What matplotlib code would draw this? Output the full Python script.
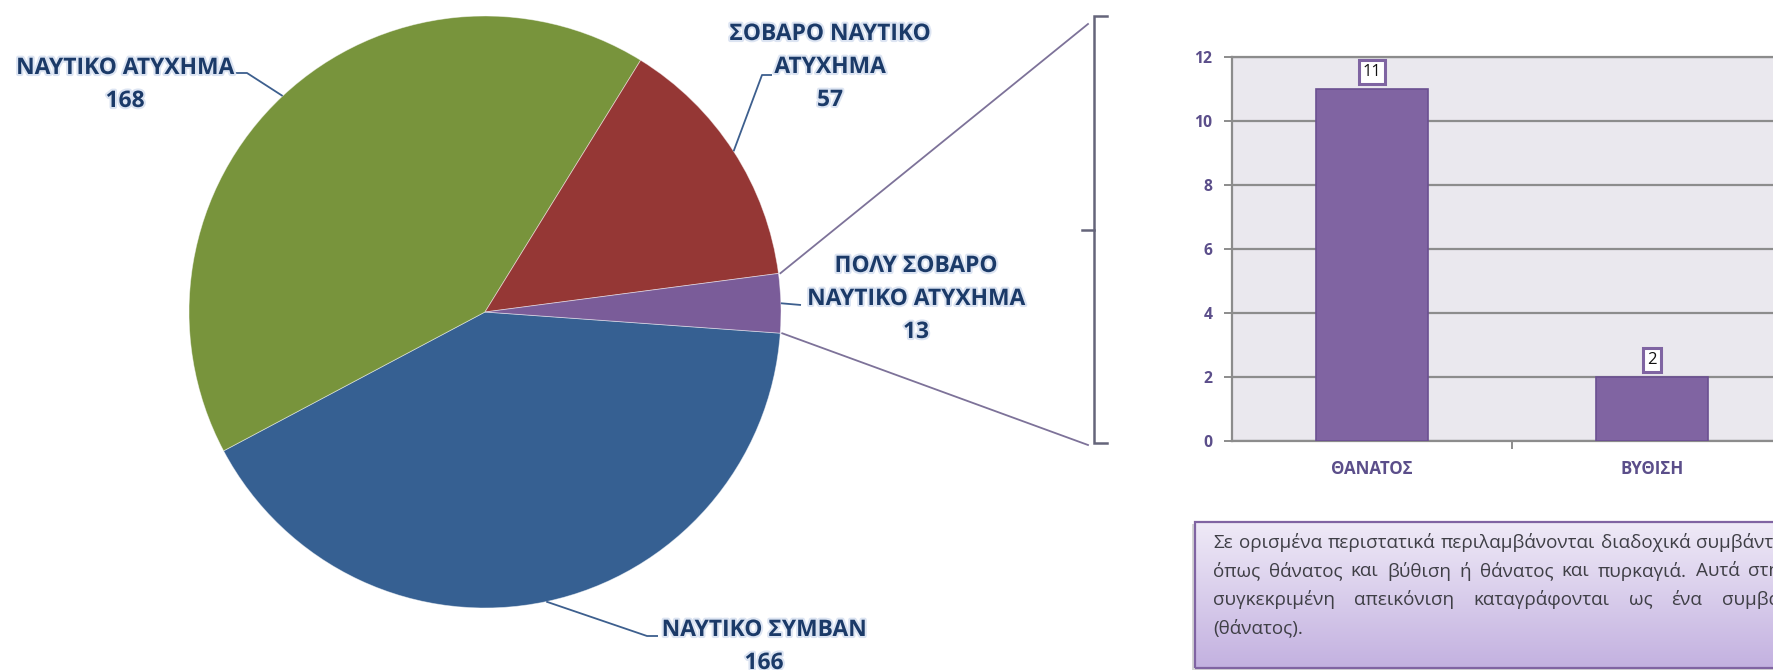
import numpy as np
import matplotlib
matplotlib.use("Agg")
import matplotlib.pyplot as plt
from matplotlib import patheffects as pe
from matplotlib.patches import Rectangle

# ---------------- data ----------------
pie_categories = ["ΝΑΥΤΙΚΟ ΣΥΜΒΑΝ", "ΝΑΥΤΙΚΟ ΑΤΥΧΗΜΑ",
                  "ΣΟΒΑΡΟ ΝΑΥΤΙΚΟ ΑΤΥΧΗΜΑ", "ΠΟΛΥ ΣΟΒΑΡΟ ΝΑΥΤΙΚΟ ΑΤΥΧΗΜΑ"]
pie_values = [166, 168, 57, 13]
pie_label_lines = [["ΝΑΥΤΙΚΟ ΣΥΜΒΑΝ"], ["ΝΑΥΤΙΚΟ ΑΤΥΧΗΜΑ"],
                   ["ΣΟΒΑΡΟ ΝΑΥΤΙΚΟ", "ΑΤΥΧΗΜΑ"], ["ΠΟΛΥ ΣΟΒΑΡΟ", "ΝΑΥΤΙΚΟ ΑΤΥΧΗΜΑ"]]
pie_colors = ["#366092", "#78943C", "#953735", "#7A5C99"]

bar_categories = ["ΘΑΝΑΤΟΣ", "ΒΥΘΙΣΗ"]
bar_values = [11, 2]
y_ticks = [0, 2, 4, 6, 8, 10, 12]

note_lines = [
    "Σε ορισμένα περιστατικά περιλαμβάνονται διαδοχικά συμβάντα,",
    "όπως θάνατος και βύθιση ή θάνατος και πυρκαγιά. Αυτά στην",
    "συγκεκριμένη απεικόνιση καταγράφονται ως ένα συμβάν",
    "(θάνατος).",
]

# ---------------- figure ----------------
W, H = 1773, 670
FONT = "Open Sans"
plt.rcParams["font.family"] = [FONT, "DejaVu Sans"]
fig = plt.figure(figsize=(W / 100, H / 100), dpi=100)
fig.patch.set_facecolor("white")
ov = fig.add_axes([0, 0, 1, 1])
renderer = fig.canvas.get_renderer()


def Y(y):
    return H - y


def fit_size(s, target_w, **kw):
    t = ov.text(0, 0, s, fontsize=10, **kw)
    w = t.get_window_extent(renderer).width
    t.remove()
    return 10.0 * target_w / w


# ---------------- pie ----------------
cx, cy, R = 485, 312, 296
wedges, _ = ov.pie(pie_values, colors=pie_colors, startangle=-4.1,
                   counterclock=False, center=(cx, Y(cy)), radius=R, frame=True,
                   wedgeprops=dict(linewidth=0.6, edgecolor=(1, 1, 1, 0.5)))
ov.set_xlim(0, W)
ov.set_ylim(0, H)
ov.axis("off")


def edge_pt(angle_deg, r=R):
    a = np.deg2rad(angle_deg)
    return cx + r * np.cos(a), Y(cy) + r * np.sin(a)


mids = [(w.theta1 + w.theta2) / 2 for w in wedges]

label_fs = fit_size("ΝΑΥΤΙΚΟ ΑΤΥΧΗΜΑ", 218, fontweight="bold")
label_color = "#1B3A68"
glow = [pe.withStroke(linewidth=3, foreground="#DCE4F2")]
label_pos = [(764, 630), (125, 68), (830, 34), (916, 266)]
line_step = 33
for lines, val, (lx, ly) in zip(pie_label_lines, pie_values, label_pos):
    for k, s in enumerate(lines + [str(val)]):
        ov.text(lx, Y(ly + k * line_step), s, ha="center", va="center",
                fontsize=label_fs, fontweight="bold", color=label_color,
                path_effects=glow, zorder=5)

leader_color = "#3D5F8E"
leaders = [
    [(658, 636), (647, 636)],   # ΝΑΥΤΙΚΟ ΣΥΜΒΑΝ
    [(235, 73), (247, 73)],     # ΝΑΥΤΙΚΟ ΑΤΥΧΗΜΑ
    [(772, 75), (762, 75)],     # ΣΟΒΑΡΟ
    [(801, 305)],               # ΠΟΛΥ ΣΟΒΑΡΟ
]
for pts, m in zip(leaders, mids):
    ex, ey = edge_pt(m)
    xs = [p[0] for p in pts] + [ex]
    ys = [Y(p[1]) for p in pts] + [ey]
    ov.plot(xs, ys, color=leader_color, lw=1.3, solid_capstyle="butt", zorder=4)

# zoom lines from the small wedge to the bracket
pw = wedges[3]
zoom_color = "#7D7299"
for ang, (bx, by) in zip([pw.theta1, pw.theta2], [(1088, 445), (1088, 24)]):
    ex, ey = edge_pt(ang, R + 2)
    ov.plot([ex, bx], [ey, Y(by)], color=zoom_color, lw=1.3, zorder=4)

# bracket
bc = "#65657A"
ov.plot([1107, 1094, 1094, 1107], [Y(16), Y(16), Y(443), Y(443)], color=bc, lw=1.8,
        solid_joinstyle="miter", zorder=4)
ov.plot([1082, 1094], [Y(230), Y(230)], color=bc, lw=1.8, zorder=4)

# ---------------- note box ----------------
bx0, by_top, by_bot, bx1 = 1195, 522, 668, 1830
shadow = Rectangle((bx0 - 3, Y(by_bot) - 2), bx1 - bx0, by_bot - by_top,
                   facecolor="#8a8a8a", alpha=0.35, edgecolor="none", zorder=1)
ov.add_patch(shadow)
grad = np.linspace(0, 1, 256)[:, None]
c_top = np.array([0xEF, 0xEA, 0xF7]) / 255
c_bot = np.array([0xC3, 0xB1, 0xE0]) / 255
img = c_top[None, None, :] * (1 - grad[:, :, None]) + c_bot[None, None, :] * grad[:, :, None]
ov.imshow(img, extent=[bx0, bx1, Y(by_bot), Y(by_top)], aspect="auto", zorder=2,
          interpolation="bilinear")
ov.add_patch(Rectangle((bx0, Y(by_bot)), bx1 - bx0, by_bot - by_top, facecolor="none",
                       edgecolor="#8064A2", lw=1.6, zorder=3))
ov.set_xlim(0, W)
ov.set_ylim(0, H)

note_fs = fit_size("συγκεκριμένη", 117) * 1.04
note_color = "#3F3F46"
note_x0, note_right = 1213, 1790
note_y0, note_step = 543, 28.3


def measure(s):
    t = ov.text(0, 0, s, fontsize=note_fs)
    w = t.get_window_extent(renderer).width
    t.remove()
    return w


space_w = measure("a a") - measure("aa")
for i, line in enumerate(note_lines):
    words = line.split(" ")
    widths = [measure(w) for w in words]
    justify = i < len(note_lines) - 1 and len(words) > 1
    if justify:
        gap = max(space_w * 0.8, (note_right - note_x0 - sum(widths)) / (len(words) - 1))
    else:
        gap = space_w
    x = note_x0
    for w, ww in zip(words, widths):
        ov.text(x, Y(note_y0 + i * note_step), w, fontsize=note_fs, color=note_color,
                ha="left", va="center", zorder=5)
        x += ww + gap

# ---------------- bar chart ----------------
ax_left, ax_top, ax_bot = 1232, 57, 441
cat_w = 280
ax = fig.add_axes([ax_left / W, (H - ax_bot) / H, 3 * cat_w / W, (ax_bot - ax_top) / H])
ax.set_facecolor("#EAE8EE")
x = np.arange(len(bar_values))
ax.bar(x, bar_values, width=0.4, color="#8064A2", edgecolor="#6B5091", lw=1.2, zorder=3)
ax.set_xlim(-0.5, 2.5)
ax.set_ylim(0, 12)
ax.set_yticks(y_ticks)
ax.yaxis.grid(True, color="#8C8C8C", lw=1.6)
ax.set_axisbelow(True)
for s in ["left", "bottom", "top"]:
    ax.spines[s].set_color("#8C8C8C")
    ax.spines[s].set_linewidth(1.6)
ax.spines["right"].set_visible(False)

tick_color = "#5B4E8A"
cat_fs = fit_size("ΘΑΝΑΤΟΣ", 81, fontweight="bold")
ytick_fs = fit_size("10", 18, fontweight="bold")
ax.set_xticks(x)
ax.set_xticklabels(bar_categories, fontsize=cat_fs, fontweight="bold", color=tick_color)
ax.set_xticks([0.5, 1.5], minor=True)
ax.tick_params(axis="x", which="major", length=0, pad=14)
ax.tick_params(axis="x", which="minor", length=6, width=1.4, color="#8C8C8C", direction="out")
ax.tick_params(axis="y", length=6, width=1.4, color="#8C8C8C", pad=8,
               labelsize=ytick_fs, labelcolor=tick_color)
for t in ax.get_yticklabels():
    t.set_fontweight("bold")

for xi, v in zip(x, bar_values):
    ax.annotate(str(v), (xi, v), xytext=(0, 6.5), textcoords="offset points",
                ha="center", va="bottom", fontsize=12, color="#111111",
                bbox=dict(boxstyle="square,pad=0.24", facecolor="white",
                          edgecolor="#7F64A2", lw=2.2), zorder=6)

fig.savefig("out.png", dpi=100)
